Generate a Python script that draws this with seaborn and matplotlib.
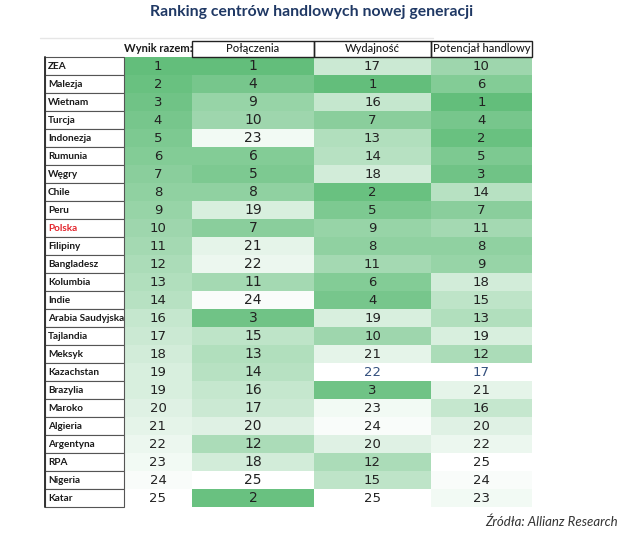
import numpy as np
import pandas as pd
import matplotlib
matplotlib.use('Agg')
import matplotlib.pyplot as plt
import seaborn as sns
from matplotlib.colors import LinearSegmentedColormap
from matplotlib.patches import Rectangle

kraje = ["ZEA", "Malezja", "Wietnam", "Turcja", "Indonezja", "Rumunia", "Węgry",
         "Chile", "Peru", "Polska", "Filipiny", "Bangladesz", "Kolumbia", "Indie",
         "Arabia Saudyjska", "Tajlandia", "Meksyk", "Kazachstan", "Brazylia",
         "Maroko", "Algieria", "Argentyna", "RPA", "Nigeria", "Katar"]
wynik = [1, 2, 3, 4, 5, 6, 7, 8, 9, 10, 11, 12, 13, 14, 16, 17, 18, 19, 19,
         20, 21, 22, 23, 24, 25]
polaczenia = [1, 4, 9, 10, 23, 6, 5, 8, 19, 7, 21, 22, 11, 24, 3, 15, 13, 14,
              16, 17, 20, 12, 18, 25, 2]
wydajnosc = [17, 1, 16, 7, 13, 14, 18, 2, 5, 9, 8, 11, 6, 4, 19, 10, 21, 22,
             3, 23, 24, 20, 12, 15, 25]
potencjal = [10, 6, 1, 4, 2, 5, 3, 14, 7, 11, 8, 9, 18, 15, 13, 19, 12, 17,
             21, 16, 20, 22, 25, 24, 23]
naglowki = ["Wynik razem:", "Połączenia", "Wydajność", "Potencjał handlowy"]

W, H = 640, 548
sns.set_style("white")
plt.rcParams['font.family'] = ['DejaVu Sans']
waski = ["Lato", "DejaVu Sans"]

fig = plt.figure(figsize=(W / 100, H / 100), dpi=100)

def box(x0, y0, x1, y1):
    return [x0 / W, 1 - y1 / H, (x1 - x0) / W, (y1 - y0) / H]

cmap = LinearSegmentedColormap.from_list("zielony", ["#63BE7B", "#FFFFFF"])
kaz = kraje.index("Kazachstan")

Y0, Y1 = 57, 507
kolumny = [
    (naglowki[0], wynik, 124, 192, 9.5, False),
    (naglowki[1], polaczenia, 192, 314, 10, False),
    (naglowki[2], wydajnosc, 314, 431, 9.5, True),
    (naglowki[3], potencjal, 431, 532, 9.5, True),
]

for nazwa, wart, x0, x1, fs, bez_kaz in kolumny:
    ax = fig.add_axes(box(x0, Y0, x1, Y1))
    df = pd.DataFrame({nazwa: wart}, index=kraje)
    mask = np.zeros((len(kraje), 1), dtype=bool)
    if bez_kaz:
        mask[kaz, 0] = True
    sns.heatmap(df, ax=ax, cmap=cmap, vmin=1, vmax=25, mask=mask,
                annot=True, fmt="d", cbar=False,
                annot_kws=dict(fontsize=fs, color="#222222"),
                xticklabels=False, yticklabels=False)
    if bez_kaz:
        ax.text(0.5, kaz + 0.5, str(wart[kaz]), ha="center", va="center",
                fontsize=fs, color="#34507e")
    ax.set_xlabel("")
    ax.set_ylabel("")

# overlay for labels, header and borders
ov = fig.add_axes([0, 0, 1, 1])
ov.set_xlim(0, W)
ov.set_ylim(H, 0)
ov.axis("off")

rh = (Y1 - Y0) / len(kraje)
for i, k in enumerate(kraje):
    y = Y0 + i * rh
    ov.add_patch(Rectangle((45, y), 79, rh, facecolor="white",
                           edgecolor="#555555", lw=0.8))
    ov.text(48, y + rh / 2 + 0.5, k, ha="left", va="center", fontsize=7.2,
            fontweight="bold", family=waski,
            color="#e3262e" if k == "Polska" else "#1a1a1a")
ov.plot([45, 45], [Y0, Y1], color="#333333", lw=1.4)

# header
ov.plot([40, 433], [38, 38], color="#e6e6e6", lw=1)
ov.text(158, 49, naglowki[0], ha="center", va="center", fontsize=8,
        fontweight="bold", family=waski, color="#1a1a1a")
for (x0, x1), t in zip([(192, 314), (314, 431), (431, 532)], naglowki[1:]):
    ov.add_patch(Rectangle((x0, 41), x1 - x0, 16, facecolor="none",
                           edgecolor="#222222", lw=1))
    ov.text((x0 + x1) / 2, 49, t, ha="center", va="center", fontsize=8,
            fontweight="medium", family=waski, color="#1a1a1a")

fig.text(312 / W, 1 - 12 / H, "Ranking centrów handlowych nowej generacji",
         ha="center", va="center", fontsize=11.3, fontweight="bold",
         family=waski, color="#1f3864")
fig.text(618 / W, 1 - 522 / H, "Źródła: Allianz Research", ha="right",
         va="center", fontsize=9.5, style="italic", family=waski,
         color="#333333")

fig.savefig("out.png", dpi=100)
